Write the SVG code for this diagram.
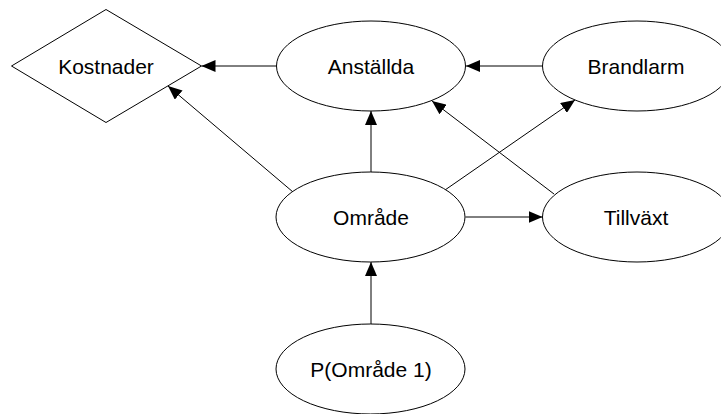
<svg xmlns="http://www.w3.org/2000/svg" width="721" height="414" viewBox="0 0 721 414">
<style>
.n{fill:#fff;stroke:#000;stroke-width:1}
.t{font-family:"Liberation Sans",Arial,sans-serif;font-size:21px;fill:#000;text-anchor:middle}
.e{stroke:#000;stroke-width:1;fill:none;marker-end:url(#ah)}
</style>
<defs>
<marker id="ah" markerUnits="userSpaceOnUse" markerWidth="14" markerHeight="12" refX="14" refY="6" orient="auto">
<path d="M0,0 L14,6 L0,12 z" fill="#000"/>
</marker>
</defs>
<rect width="721" height="414" fill="#fff"/>
<g id="connectors">
<line class="e" x1="276.5" y1="66" x2="201.5" y2="66"/>
<line class="e" x1="293" y1="192" x2="168" y2="86"/>
<line class="e" x1="371" y1="172" x2="371" y2="111"/>
<line class="e" x1="542.5" y1="66" x2="466" y2="66"/>
<line class="e" x1="445" y1="190" x2="575" y2="100"/>
<line class="e" x1="554" y1="194" x2="432" y2="101"/>
<line class="e" x1="465.5" y1="217" x2="542.5" y2="217"/>
<line class="e" x1="371" y1="324" x2="371" y2="262"/>
</g>
<g id="kostnader">
<polygon class="n" points="11.5,66 106,9.5 201.5,66 106,122.5"/>
<text class="t" x="106" y="73.5">Kostnader</text>
</g>
<g id="anstallda">
<ellipse class="n" cx="371" cy="66" rx="94.5" ry="45"/>
<text class="t" x="371" y="73.5">Anställda</text>
</g>
<g id="brandlarm">
<ellipse class="n" cx="637" cy="66" rx="94.5" ry="45"/>
<text class="t" x="636" y="73.5">Brandlarm</text>
</g>
<g id="omrade">
<ellipse class="n" cx="370.5" cy="217" rx="94.5" ry="45"/>
<text class="t" x="371" y="224.5">Område</text>
</g>
<g id="tillvaxt">
<ellipse class="n" cx="637" cy="217" rx="94.5" ry="45"/>
<text class="t" x="636" y="224.5">Tillväxt</text>
</g>
<g id="p_omrade1">
<ellipse class="n" cx="370.5" cy="369" rx="94.5" ry="45"/>
<text class="t" x="371" y="377">P(Område 1)</text>
</g>
</svg>
